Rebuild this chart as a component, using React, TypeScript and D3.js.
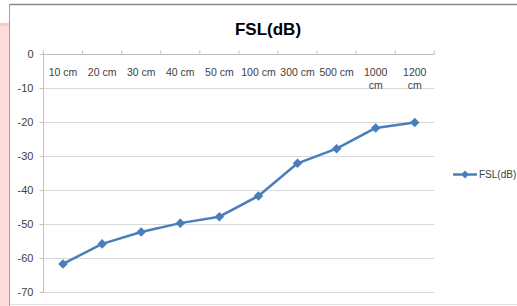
import React from "react";
import * as d3 from "d3";

const categories = ["10 cm", "20 cm", "30 cm", "40 cm", "50 cm", "100 cm", "300 cm", "500 cm", "1000 cm", "1200 cm"];
const fslValues = [-61.6, -55.7, -52.2, -49.6, -47.7, -41.6, -32.0, -27.7, -21.6, -20.0];
const yTicks = [0, -10, -20, -30, -40, -50, -60, -70];
const seriesName = "FSL(dB)";
const title = "FSL(dB)";

const W = 517;
const H = 306;
const FONT = "'Liberation Sans', Arial, sans-serif";
const LINE = "#4a7ebb";

export default function App() {
  const x = d3.scaleBand<string>().domain(categories).range([43.5, 434.3]).padding(0);
  const y = d3.scaleLinear().domain([0, -70]).range([54.5, 292.5]);
  const line = d3
    .line<number>()
    .x((_, i) => (x(categories[i]) as number) + x.bandwidth() / 2)
    .y((d) => y(d));
  const diamond = d3.symbol().type(d3.symbolDiamond2).size(58)() as string;
  const legendDiamond = d3.symbol().type(d3.symbolDiamond2).size(40)() as string;
  const boundaries = categories.map((c) => x(c) as number).concat([x.range()[1]]);

  return (
    <svg width={W} height={H} style={{ position: "absolute", left: 0, top: 0, background: "#fff" }} fontFamily={FONT}>
      <rect x={0} y={23} width={9} height={H - 23} fill="#fddcdc" />
      <rect x={0} y={23} width={9} height={3} fill="#fcc8c8" />
      {/* chart frame */}
      <line x1={9.5} y1={4.5} x2={W} y2={4.5} stroke="#8a8a8a" strokeWidth={1.5} />
      <line x1={9.5} y1={4} x2={9.5} y2={H} stroke="#a0a0a0" strokeWidth={1} />
      <line x1={10} y1={304.5} x2={W} y2={304.5} stroke="#e0e0e0" strokeWidth={1} />

      <text x={268} y={35} textAnchor="middle" fontWeight="bold" fontSize={17} fill="#000">
        {title}
      </text>

      {/* gridlines */}
      {yTicks.filter((t) => t !== 0).map((t) => (
        <line key={t} x1={43.5} x2={434.3} y1={y(t)} y2={y(t)} stroke="#d9d9d9" strokeWidth={1} />
      ))}
      {/* y axis */}
      <line x1={43.5} x2={43.5} y1={y(0)} y2={y(-70)} stroke="#bfbfbf" />
      {yTicks.map((t) => (
        <g key={t}>
          <line x1={39.5} x2={43.5} y1={y(t)} y2={y(t)} stroke="#bfbfbf" />
          <text x={33.5} y={y(t)} dy="0.35em" textAnchor="end" fontSize={11} fill="#404040">
            {t}
          </text>
        </g>
      ))}
      {/* category axis at 0 */}
      <line x1={43.5} x2={434.3} y1={y(0)} y2={y(0)} stroke="#bfbfbf" />
      {boundaries.map((b, i) => (
        <line key={i} x1={b} x2={b} y1={y(0) - 4} y2={y(0)} stroke="#bfbfbf" />
      ))}
      {categories.map((c) => {
        const cx = (x(c) as number) + x.bandwidth() / 2;
        const lines = c.length > 6 ? c.split(" ") : [c];
        return (
          <text key={c} x={cx} y={75.5} textAnchor="middle" fontSize={10.5} fill="#404040">
            {lines.map((l, j) => (
              <tspan key={j} x={cx} dy={j === 0 ? 0 : 13.5}>
                {l}
              </tspan>
            ))}
          </text>
        );
      })}

      {/* series */}
      <path d={line(fslValues) as string} fill="none" stroke={LINE} strokeWidth={2.5} strokeLinejoin="round" />
      {fslValues.map((v, i) => (
        <path
          key={i}
          d={diamond}
          transform={`translate(${(x(categories[i]) as number) + x.bandwidth() / 2},${y(v)})`}
          fill={LINE}
        />
      ))}

      {/* legend */}
      <line x1={453} x2={477} y1={174.5} y2={174.5} stroke={LINE} strokeWidth={2.5} />
      <path d={legendDiamond} transform="translate(465,174.5)" fill={LINE} />
      <text x={479} y={174.5} dy="0.35em" fontSize={10} fill="#404040">
        {seriesName}
      </text>
    </svg>
  );
}
